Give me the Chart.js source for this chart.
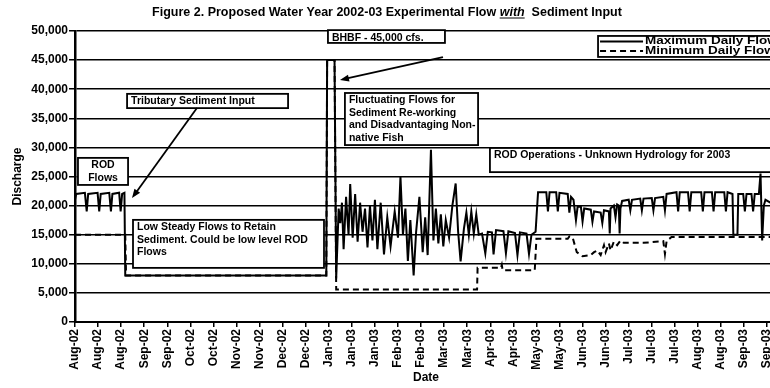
<!DOCTYPE html>
<html>
<head>
<meta charset="utf-8">
<script src="https://cdn.jsdelivr.net/npm/chart.js@4.4.0/dist/chart.umd.min.js"></script>
<style>
  html, body { margin: 0; padding: 0; background: #fff; overflow: hidden; }
  #wrap { width: 790px; height: 388px; }
</style>
</head>
<body>
<div id="wrap"><canvas id="flow" width="790" height="388"></canvas></div>
<script>
// day 0 = 1 Aug 2002, one label every 14 days
const tickLabels = ['Aug-02', 'Aug-02', 'Aug-02', 'Sep-02', 'Sep-02', 'Oct-02', 'Oct-02', 'Nov-02',
  'Nov-02', 'Dec-02', 'Dec-02', 'Jan-03', 'Jan-03', 'Jan-03', 'Feb-03', 'Feb-03', 'Mar-03', 'Mar-03',
  'Apr-03', 'Apr-03', 'May-03', 'May-03', 'Jun-03', 'Jun-03', 'Jul-03', 'Jul-03', 'Jul-03', 'Aug-03',
  'Aug-03', 'Sep-03', 'Sep-03'];

// maximum daily flow (cfs)
const maxDay = [0, 0.7, 6, 7.1, 8, 13.7, 14.7, 15.6, 20.8, 21.8, 22.7, 26.8, 27.7, 28.6, 30, 30.5,
  152.5, 153, 157.5, 158.5,
  160, 161, 162, 163, 164.5, 166, 167, 168.5, 170, 171.5, 173, 174.5, 176, 177.5, 179, 180.5, 182,
  183.5, 185.5, 187.5, 189.5, 191.5, 194, 196, 197.5, 199, 200.5, 202, 203.5, 205.5, 207, 209, 211,
  212.5, 214, 216, 217.5, 219, 220.5, 222, 223.5, 225, 227, 229, 231, 232.5, 234, 236, 237.5, 239,
  240.5, 242, 243.5, 245,
  247, 249, 250.5, 253, 254, 255.5, 260, 261.5, 263, 267, 268.5, 270, 274, 275.5, 277, 279.5,
  281, 286, 287, 288, 292, 293, 294, 299, 300, 301, 302.5, 304, 305, 307, 308, 309, 313, 314, 315,
  319, 320, 321, 324, 324.5, 325, 327, 328, 329, 330, 330.5, 331, 332, 336, 337, 338, 343, 344, 345,
  350, 351, 352, 357, 358, 359, 365, 366, 367, 372, 373, 374, 380, 381, 382, 386.5, 387.5, 388.5,
  394, 395, 396, 399, 399.5, 402, 402.5, 405.5, 406.5, 407.5, 410.5, 411.5, 412.5, 415, 416, 417,
  418, 419, 422, 426];
const maxCfs = [21000, 22000, 22200, 19000, 22000, 22200, 19000, 22000, 22200, 19000, 22000, 22200,
  19000, 22000, 22200, 8000,
  8000, 45000, 45000, 7500,
  19500, 17000, 20500, 12500, 21500, 15000, 23700, 14500, 22000, 13800, 20500, 15500, 19500, 12800,
  20000, 14000, 21000, 12500, 20500, 11600, 18000, 13000, 19000, 14500, 25000, 15000, 19500, 10500,
  17500, 8000, 15500, 21500, 12000, 18000, 11500, 29600, 14000, 19500, 13500, 18500, 13000, 17500,
  14500, 20000, 23800, 15500, 10400, 16000, 18800, 15000, 19000, 15200, 18500, 15000,
  15200, 11800, 15500, 15400, 11600, 15800, 15600, 11800, 15600, 15300, 11500, 15400, 15200, 11700,
  15000, 15500,
  22300, 22300, 19000, 22300, 22300, 19000, 22200, 22000, 18800, 21500, 21000, 17500, 19800, 19800,
  17300, 19500, 19300, 17200, 19000, 18800, 17000, 19200, 19000, 15200, 19500, 20000, 18000, 20200,
  20000, 15200, 19500, 20800, 21000, 19200, 21000, 21200, 19200, 21200, 21300, 19200, 21300, 21500,
  19200, 22000, 22300, 19000, 22300, 22300, 19000, 22300, 22300, 19000, 22300, 22300, 19000, 22300,
  22300, 19000, 22300, 22000, 15000, 15000, 22000, 22000, 19000, 22000, 22000, 19000, 22000, 22000,
  25500, 14000, 20000, 21000, 20500, 21000];

// minimum daily flow (cfs)
const minDay = [0, 30.5, 31, 152.5, 153, 157.5, 158.5, 244, 244.3, 258.5, 259, 259.5, 279, 280, 299,
  300, 302, 304.5, 308, 313, 315, 317, 319, 321, 322, 324, 325, 327, 329, 331, 333, 345, 357, 358,
  359, 362, 426];
const minCfs = [15000, 15000, 8000, 8000, 45000, 45000, 5600, 5600, 9300, 9300, 9800, 8900, 8900,
  14300, 14300, 14700, 14500, 12000, 11300, 11500, 12000, 12300, 11500, 13200, 12000, 13500, 12300,
  13800, 13200, 14000, 13600, 13600, 13900, 11700, 13900, 14600, 14600];

const FONT = "'Liberation Sans', Arial, sans-serif";

// call-out boxes, corners in (day, cfs)
const notes = [
  { lines: ['Tributary Sediment Input'], x0: 31.6, x1: 129.3, y0: 39200, y1: 36750 },
  { lines: ['ROD', 'Flows'], x0: 1.8, x1: 32.2, y0: 28200, y1: 23550, center: true },
  { lines: ['Low Steady Flows to Retain', 'Sediment. Could be low level ROD', 'Flows'],
    x0: 35.2, x1: 151.1, y0: 17550, y1: 9300 },
  { lines: ['BHBF - 45,000 cfs.'], x0: 153.5, x1: 224.5, y0: 50150, y1: 47950 },
  { lines: ['Fluctuating Flows for', 'Sediment Re-working', 'and Disadvantaging Non-', 'native Fish'],
    x0: 163.8, x1: 244.6, y0: 39350, y1: 30400 },
  { lines: ['ROD Operations - Unknown Hydrology for 2003'], x0: 251.8, x1: 440, y0: 29900, y1: 25750 }
];
const arrows = [
  { from: [74, 36770], to: [34.6, 21300] },
  { from: [223.3, 45530], to: [160.8, 41580] }
];

const calloutPlugin = {
  id: 'callouts',
  afterDatasetsDraw(chart) {
    const { ctx } = chart;
    const sx = chart.scales.x, sy = chart.scales.y;
    ctx.save();
    ctx.font = 'bold 10.5px ' + FONT;
    ctx.textBaseline = 'middle';
    ctx.lineWidth = 1.8;
    ctx.strokeStyle = '#000';
    notes.forEach(n => {
      const l = sx.getPixelForValue(n.x0), r = sx.getPixelForValue(n.x1);
      const t = sy.getPixelForValue(n.y0), b = sy.getPixelForValue(n.y1);
      ctx.fillStyle = '#fff';
      ctx.fillRect(l, t, r - l, b - t);
      ctx.strokeRect(l, t, r - l, b - t);
      ctx.fillStyle = '#000';
      ctx.textAlign = n.center ? 'center' : 'left';
      n.lines.forEach((line, i) => {
        ctx.fillText(line, n.center ? (l + r) / 2 : l + 4, t + 7.5 + i * 12.5);
      });
    });
    arrows.forEach(a => {
      const x1 = sx.getPixelForValue(a.from[0]), y1 = sy.getPixelForValue(a.from[1]);
      const x2 = sx.getPixelForValue(a.to[0]), y2 = sy.getPixelForValue(a.to[1]);
      const ang = Math.atan2(y2 - y1, x2 - x1);
      ctx.beginPath();
      ctx.moveTo(x1, y1);
      ctx.lineTo(x2 - 6 * Math.cos(ang), y2 - 6 * Math.sin(ang));
      ctx.stroke();
      ctx.beginPath();
      ctx.moveTo(x2, y2);
      ctx.lineTo(x2 - 9 * Math.cos(ang) + 3.5 * Math.sin(ang), y2 - 9 * Math.sin(ang) - 3.5 * Math.cos(ang));
      ctx.lineTo(x2 - 9 * Math.cos(ang) - 3.5 * Math.sin(ang), y2 - 9 * Math.sin(ang) + 3.5 * Math.cos(ang));
      ctx.closePath();
      ctx.fill();
    });

    // legend box, labels drawn a little wide
    const lx = sx.getPixelForValue(317.4), ly = sy.getPixelForValue(49150);
    ctx.fillStyle = '#fff';
    ctx.fillRect(lx, ly, 200, 21);
    ctx.strokeRect(lx, ly, 200, 21);
    ctx.font = 'bold 10px ' + FONT;
    ctx.textAlign = 'left';
    chart.data.datasets.forEach((ds, i) => {
      const yy = ly + 5.5 + i * 9.5;
      ctx.beginPath();
      ctx.setLineDash(ds.borderDash || []);
      ctx.lineWidth = 2;
      ctx.moveTo(lx + 2, yy);
      ctx.lineTo(lx + 45, yy);
      ctx.stroke();
      ctx.setLineDash([]);
      ctx.fillStyle = '#000';
      ctx.save();
      ctx.translate(lx + 47, yy);
      ctx.scale(1.35, 1);
      ctx.fillText(ds.label, 0, 0);
      ctx.restore();
    });
    ctx.restore();
  },
  afterDraw(chart) {
    // chart heading with the emphasised word
    const { ctx } = chart;
    const parts = [
      { t: 'Figure 2. Proposed Water Year 2002-03 Experimental Flow ', f: 'bold 12.5px ' },
      { t: 'with', f: 'italic bold 12.5px ', u: true },
      { t: '  Sediment Input', f: 'bold 12.5px ' }
    ];
    ctx.save();
    ctx.fillStyle = '#000';
    ctx.strokeStyle = '#000';
    ctx.textBaseline = 'alphabetic';
    let total = 0;
    parts.forEach(p => { ctx.font = p.f + FONT; p.w = ctx.measureText(p.t).width; total += p.w; });
    let x = 387 - total / 2;
    parts.forEach(p => {
      ctx.font = p.f + FONT;
      ctx.fillText(p.t, x, 16);
      if (p.u) {
        ctx.lineWidth = 1;
        ctx.beginPath();
        ctx.moveTo(x, 18);
        ctx.lineTo(x + p.w, 18);
        ctx.stroke();
      }
      x += p.w;
    });
    ctx.restore();
  }
};

const axisFont = { family: FONT, size: 12, weight: 'bold' };

new Chart(document.getElementById('flow'), {
  type: 'line',
  data: {
    datasets: [
      {
        label: 'Maximum Daily Flow',
        data: maxDay.map((d, i) => ({ x: d, y: maxCfs[i] })),
        borderColor: '#000',
        borderWidth: 2
      },
      {
        label: 'Minimum Daily Flow',
        data: minDay.map((d, i) => ({ x: d, y: minCfs[i] })),
        borderColor: '#000',
        borderWidth: 2,
        borderDash: [6, 4]
      }
    ]
  },
  options: {
    responsive: false,
    animation: false,
    devicePixelRatio: 1,
    layout: { padding: { top: 31, right: 13, left: 0, bottom: 0 } },
    elements: { point: { radius: 0 }, line: { tension: 0 } },
    plugins: { legend: { display: false }, tooltip: { enabled: false } },
    scales: {
      x: {
        type: 'linear',
        min: 0,
        max: 426,
        afterBuildTicks: s => { s.ticks = tickLabels.map((_, i) => ({ value: i * 14 })); },
        afterFit: s => { s.height = 66; },
        ticks: {
          autoSkip: false, minRotation: 90, maxRotation: 90, padding: 2,
          color: '#000', font: axisFont,
          callback: (v, i) => tickLabels[i]
        },
        grid: { drawOnChartArea: false, tickLength: 5, color: '#000', lineWidth: 1.5 },
        border: { color: '#000', width: 2 },
        title: { display: true, text: 'Date', color: '#000', font: axisFont, padding: { top: 0, bottom: 3 } }
      },
      y: {
        min: 0,
        max: 50000,
        afterFit: s => { s.width = 75; },
        ticks: {
          stepSize: 5000, padding: 1, color: '#000', font: axisFont,
          callback: v => v.toLocaleString('en-US')
        },
        grid: { color: '#000', lineWidth: 1.5, tickLength: 6 },
        border: { color: '#000', width: 2.5 },
        title: { display: true, text: 'Discharge', color: '#000', font: axisFont, padding: { top: 10, bottom: 0 } }
      }
    }
  },
  plugins: [calloutPlugin]
});
</script>
</body>
</html>
